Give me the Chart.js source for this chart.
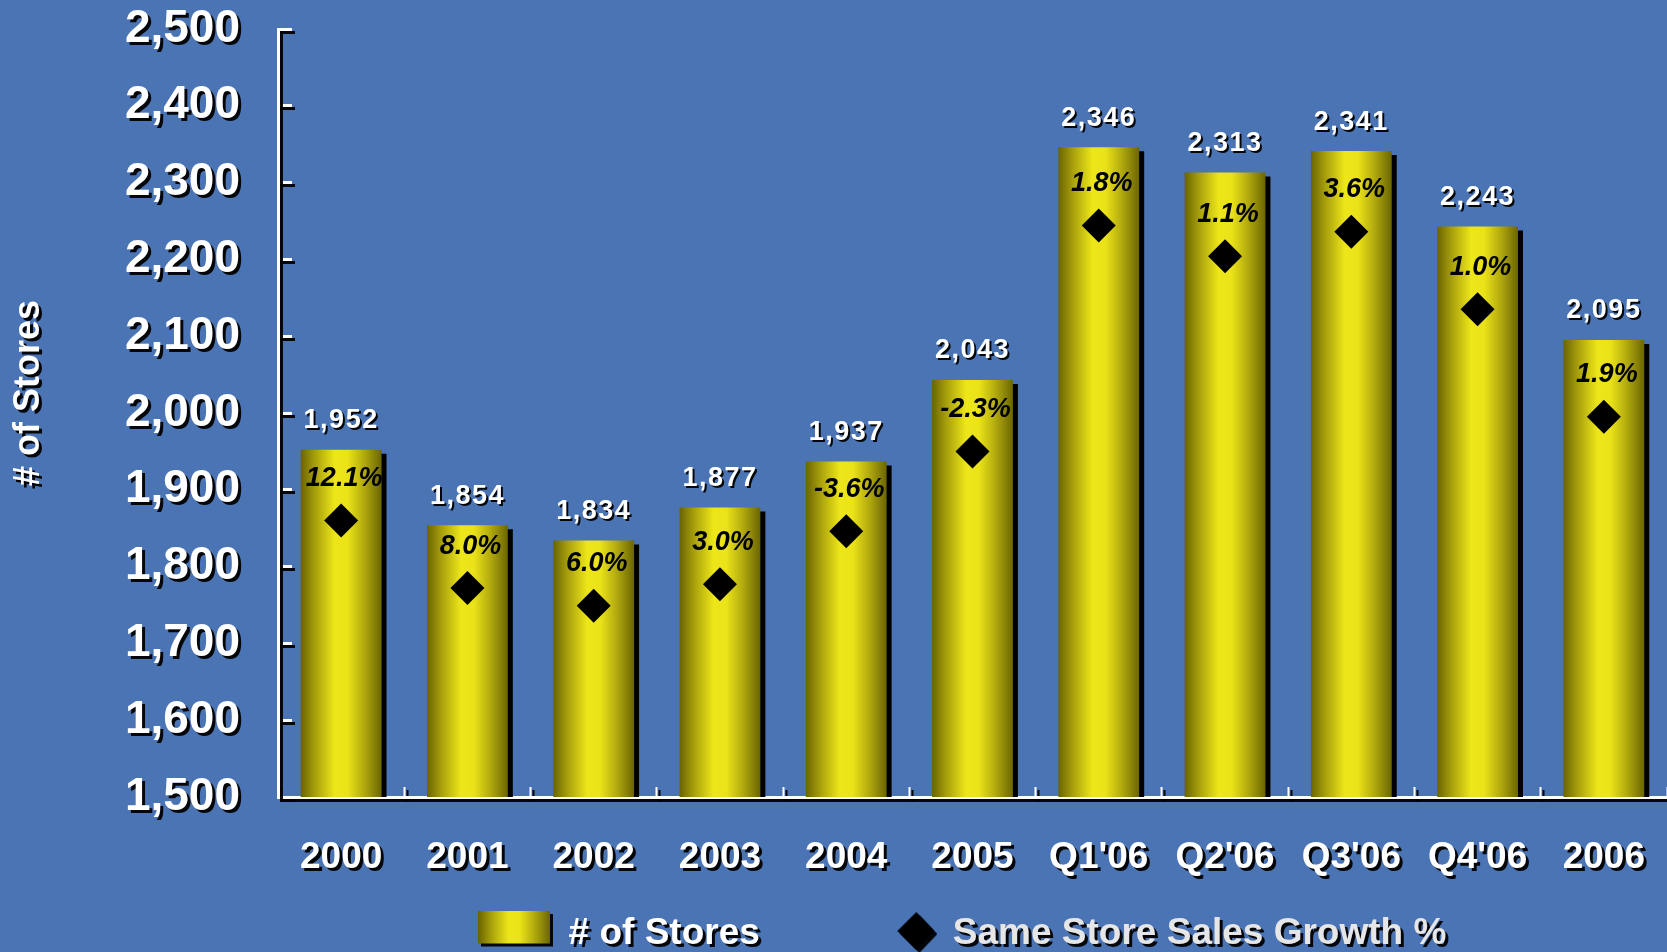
<!DOCTYPE html>
<html>
<head>
<meta charset="utf-8">
<script src="https://cdn.jsdelivr.net/npm/chart.js@4/dist/chart.umd.min.js"></script>
<style>
  html, body { margin: 0; padding: 0; background: #4a74b4; overflow: hidden; }
  #wrap { width: 1667px; height: 952px; }
</style>
</head>
<body>
<div id="wrap"><canvas id="c" width="1667" height="952"></canvas></div>
<script>
// ---- data ----
const categories = ['2000', '2001', '2002', '2003', '2004', '2005', "Q1'06", "Q2'06", "Q3'06", "Q4'06", '2006'];
const storeCounts = [1952, 1854, 1834, 1877, 1937, 2043, 2346, 2313, 2341, 2243, 2095];
const growthPct = [12.1, 8.0, 6.0, 3.0, -3.6, -2.3, 1.8, 1.1, 3.6, 1.0, 1.9];
// vertical position of each diamond marker, read against the store axis
const markerLevels = [1860, 1772, 1749, 1777, 1846, 1950, 2244, 2204, 2236, 2135, 1995];
const yTickMin = 1500, yTickMax = 2500, yTickStep = 100;
const seriesNames = ['# of Stores', 'Same Store Sales Growth %'];
const yAxisTitle = '# of Stores';

// ---- styling ----
const BG = '#4a74b4';
const FONT = '"Liberation Sans", Arial, Helvetica, sans-serif';
const BAR_PCT = 0.64;
const gradStops = [[0, '#6a6402'], [0.18, '#a8a00c'], [0.42, '#ede619'], [0.58, '#ebe318'], [0.78, '#b3ab0e'], [1, '#6b6503']];

function barGradient(ctx, x0, x1) {
  const g = ctx.createLinearGradient(x0, 0, x1, 0);
  gradStops.forEach(s => g.addColorStop(s[0], s[1]));
  return g;
}

// legend swatches (transparent padding below shifts the drawn shape upward)
const barSwatch = document.createElement('canvas');
barSwatch.width = 72; barSwatch.height = 47;
(function () { const g = barSwatch.getContext('2d'); g.fillStyle = barGradient(g, 0, 72); g.fillRect(0, 0, 72, 33); })();
const diamondSwatch = document.createElement('canvas');
diamondSwatch.width = 72; diamondSwatch.height = 44;
(function () {
  const g = diamondSwatch.getContext('2d'); g.fillStyle = '#000';
  g.beginPath(); g.moveTo(35, 19); g.lineTo(54, 0); g.lineTo(72, 19); g.lineTo(54, 38); g.closePath(); g.fill();
})();

const decoPlugin = {
  id: 'deco',
  beforeDraw(chart) {
    const ctx = chart.ctx;
    ctx.save(); ctx.fillStyle = BG; ctx.fillRect(0, 0, chart.width, chart.height); ctx.restore();
    ctx.shadowColor = 'rgba(0,0,0,0.95)'; ctx.shadowOffsetX = 3; ctx.shadowOffsetY = 3; ctx.shadowBlur = 0;
  },
  beforeDatasetDraw(chart, args) {
    const ctx = chart.ctx;
    if (args.index === 0) { ctx.shadowColor = '#000'; ctx.shadowOffsetX = 5; ctx.shadowOffsetY = 4; ctx.shadowBlur = 0; }
    else { ctx.shadowColor = 'rgba(0,0,0,0)'; ctx.shadowOffsetX = 0; ctx.shadowOffsetY = 0; }
  },
  afterDatasetsDraw(chart) {
    const ctx = chart.ctx;
    const bars = chart.getDatasetMeta(0).data;
    const pts = chart.getDatasetMeta(1).data;
    ctx.save();
    ctx.textAlign = 'center'; ctx.textBaseline = 'middle';
    // store counts above bars
    ctx.shadowColor = 'rgba(0,0,0,0.95)'; ctx.shadowOffsetX = 2; ctx.shadowOffsetY = 2; ctx.shadowBlur = 0;
    ctx.fillStyle = '#ffffff';
    ctx.font = 'bold 27px ' + FONT;
    try { ctx.letterSpacing = '1.5px'; } catch (e) {}
    bars.forEach((b, i) => {
      ctx.fillText(storeCounts[i].toLocaleString('en-US'), b.x, b.y - 29);
    });
    // growth percentages above diamonds
    ctx.shadowColor = 'rgba(0,0,0,0)'; ctx.shadowOffsetX = 0; ctx.shadowOffsetY = 0;
    try { ctx.letterSpacing = '0px'; } catch (e) {}
    ctx.fillStyle = '#000';
    ctx.font = 'italic bold 27px ' + FONT;
    pts.forEach((p, i) => {
      ctx.fillText(growthPct[i].toFixed(1) + '%', p.x + 3, p.y - 42);
    });
    ctx.restore();
  },
  afterDraw(chart) {
    const ctx = chart.ctx;
    ctx.shadowColor = 'rgba(0,0,0,0)'; ctx.shadowOffsetX = 0; ctx.shadowOffsetY = 0;
  }
};

function zeroPad(s) { s.paddingTop = 0; s.paddingBottom = 0; s.paddingLeft = 0; s.paddingRight = 0; }

new Chart(document.getElementById('c'), {
  type: 'bar',
  data: {
    labels: categories,
    datasets: [
      {
        label: seriesNames[0],
        data: storeCounts,
        order: 1,
        categoryPercentage: 1,
        barPercentage: BAR_PCT,
        borderWidth: 0,
        backgroundColor(c) {
          const chart = c.chart; const xs = chart.scales && chart.scales.x;
          if (!chart.chartArea || !xs || c.dataIndex === undefined) return '#e8e01a';
          const cx = xs.getPixelForValue(c.dataIndex);
          const w = xs.width / categories.length * BAR_PCT;
          return barGradient(chart.ctx, cx - w / 2, cx + w / 2);
        }
      },
      {
        type: 'line',
        label: seriesNames[1],
        data: markerLevels,
        order: 0,
        showLine: false,
        pointStyle: 'rectRot',
        pointRadius: 17,
        pointHoverRadius: 17,
        pointBackgroundColor: '#000',
        pointBorderWidth: 0,
        borderColor: '#000'
      }
    ]
  },
  options: {
    responsive: false,
    animation: false,
    devicePixelRatio: 1,
    layout: { autoPadding: false, padding: { top: 29, left: 0, right: 0, bottom: -10.5 } },
    plugins: {
      tooltip: { enabled: false },
      legend: {
        position: 'bottom',
        fullSize: false,
        align: 'center',
        labels: {
          usePointStyle: true,
          pointStyleWidth: 72,
          padding: 10,
          font: { family: FONT, size: 37, weight: 'bold' },
          generateLabels() {
            return [
              { text: seriesNames[0] + '         ', pointStyle: barSwatch, fontColor: '#ffffff', fillStyle: '#e8e01a', strokeStyle: 'rgba(0,0,0,0)', lineWidth: 0, hidden: false, datasetIndex: 0 },
              { text: seriesNames[1] + '  ', pointStyle: diamondSwatch, fontColor: '#e6e6e6', fillStyle: '#000', strokeStyle: 'rgba(0,0,0,0)', lineWidth: 0, hidden: false, datasetIndex: 1 }
            ];
          }
        }
      }
    },
    scales: {
      x: {
        offset: true,
        ticks: { color: '#ffffff', font: { family: FONT, size: 37, weight: 'bold' }, padding: 48.8, maxRotation: 0, autoSkip: false },
        grid: { offset: true, drawOnChartArea: false, drawTicks: true, tickLength: -10, tickWidth: 2, tickColor: '#ffffff' },
        border: { color: '#ffffff', width: 3 },
        afterFit(s) { s.height = 108.5; zeroPad(s); }
      },
      y: {
        min: yTickMin,
        max: yTickMax,
        ticks: {
          stepSize: yTickStep,
          color: '#ffffff',
          font: { family: FONT, size: 46, weight: 'bold' },
          padding: 52,
          callback: v => Number(v).toLocaleString('en-US')
        },
        grid: { drawOnChartArea: false, drawTicks: true, tickLength: -14, tickWidth: 3, tickColor: '#ffffff' },
        border: { color: '#ffffff', width: 3 },
        title: { display: true, text: '    ' + yAxisTitle, color: '#ffffff', font: { family: FONT, size: 36, weight: 'bold' }, padding: { top: 7, bottom: 0 } },
        afterFit(s) { s.width = 278; zeroPad(s); }
      }
    }
  },
  plugins: [decoPlugin]
});
</script>
</body>
</html>
